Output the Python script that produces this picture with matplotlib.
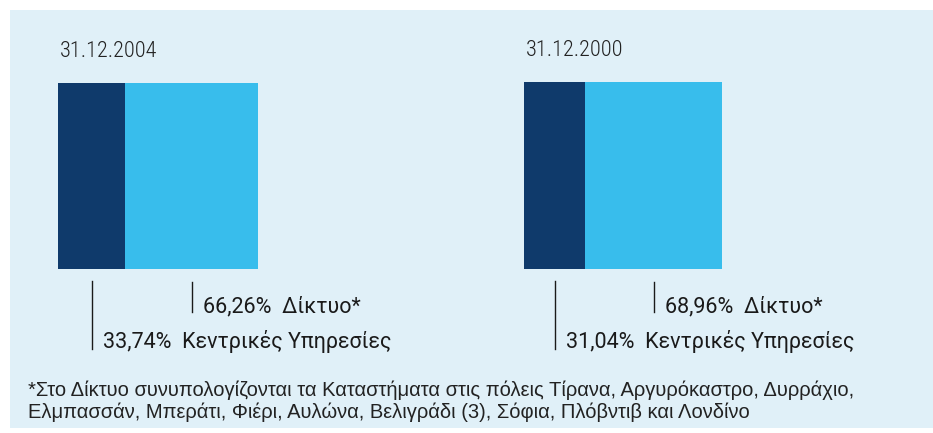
import matplotlib
matplotlib.use("Agg")
import matplotlib.pyplot as plt
from matplotlib import transforms

# ---- data ----
dates = ["31.12.2004", "31.12.2000"]
central = [33.74, 31.04]   # Κεντρικές Υπηρεσίες
network = [66.26, 68.96]   # Δίκτυο*
lbl_central = "Κεντρικές Υπηρεσίες"
lbl_network = "Δίκτυο*"
footnote = ["*Στο Δίκτυο συνυπολογίζονται τα Καταστήματα στις πόλεις Τίρανα, Αργυρόκαστρο, Δυρράχιο,",
            "Ελμπασσάν, Μπεράτι, Φιέρι, Αυλώνα, Βελιγράδι (3), Σόφια, Πλόβντιβ και Λονδίνο"]

DARK = "#0f3a6b"
LIGHT = "#38bdec"
BG = "#e0f0f8"
TXT = "#1a1a1a"
NARROW = ["Roboto Condensed", "DejaVu Sans"]
SANS = ["Roboto", "DejaVu Sans"]
WIDE = ["Liberation Sans", "DejaVu Sans"]

W, H = 933, 433
fig = plt.figure(figsize=(W / 100, H / 100), dpi=100)
fig.patch.set_facecolor("white")

# light panel behind everything
bg = fig.add_axes([10 / W, 5 / H, 1, (H - 15) / H], zorder=-1)
bg.axis("off")
bg.add_patch(plt.Rectangle((0, 0), 1, 1, transform=bg.transAxes, color=BG))

# bar boxes in pixels: left, top, width, height
boxes = [(58, 83, 200, 186), (524, 82, 198, 187)]

for i, (x0, y0, bw, bh) in enumerate(boxes):
    ax = fig.add_axes([x0 / W, (H - y0 - bh) / H, bw / W, bh / H])
    ax.barh(0, central[i], height=1, color=DARK)
    ax.barh(0, network[i], left=central[i], height=1, color=LIGHT)
    ax.set_xlim(0, 100)
    ax.set_ylim(-0.5, 0.5)
    ax.axis("off")

    tr = transforms.blended_transform_factory(ax.transData, ax.transAxes)
    px = 1 / bh  # one pixel in axes fraction (vertical)

    ax.text(0.01, 1 + 26 * px, dates[i], transform=ax.transAxes,
            family=NARROW, fontweight="light", fontsize=16, color="#222222",
            va="baseline", ha="left")

    # network label (upper)
    xn = central[i] + network[i] / 2
    ax.plot([xn, xn], [-13 * px, -43 * px], transform=tr, color=TXT,
            lw=1, clip_on=False)
    ax.annotate(f"{network[i]:.2f}%  {lbl_network}".replace(".", ","),
                xy=(xn, -43 * px), xycoords=tr, xytext=(11, 0),
                textcoords="offset pixels", family=SANS,
                fontsize=15.5, color=TXT, va="baseline", ha="left")

    # central label (lower)
    xc = central[i] / 2
    ax.plot([xc, xc], [-12 * px, -80 * px], transform=tr, color=TXT,
            lw=1, clip_on=False)
    ax.annotate(f"{central[i]:.2f}%  {lbl_central}".replace(".", ","),
                xy=(xc, -79 * px), xycoords=tr, xytext=(11, 0),
                textcoords="offset pixels", family=SANS,
                fontsize=15.5, color=TXT, va="baseline", ha="left")

for k, line in enumerate(footnote):
    fig.text(28 / W, (H - 396 - 22 * k) / H, line, family=WIDE,
             fontsize=14.5, color="#222222", va="baseline", ha="left")

fig.savefig("out.png", dpi=100, facecolor=fig.get_facecolor())
